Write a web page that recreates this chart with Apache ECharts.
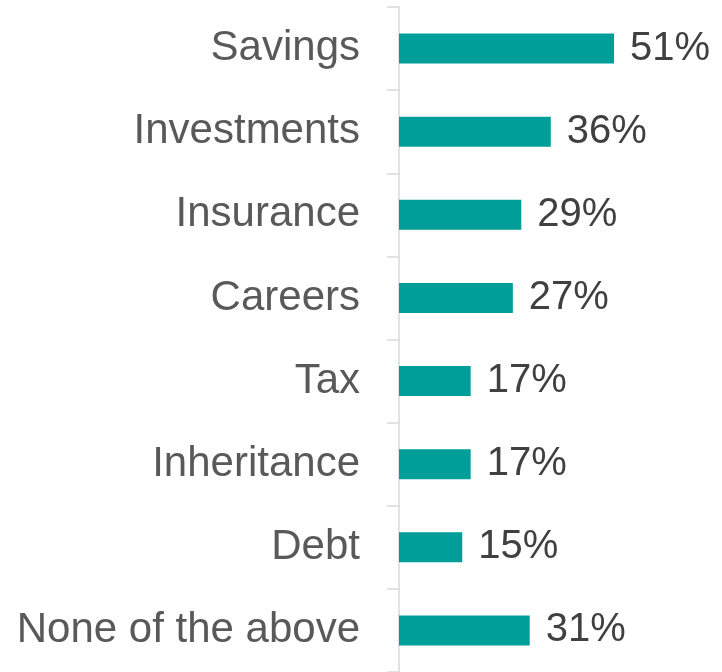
<!DOCTYPE html>
<html>
<head>
<meta charset="utf-8">
<script src="https://cdn.jsdelivr.net/npm/echarts@6/dist/echarts.min.js"></script>
<style>
  html, body { margin: 0; padding: 0; background: #fff; }
  #main { width: 722px; height: 672px; }
</style>
</head>
<body>
<div id="main"></div>
<script>
// categories top to bottom
const categories = ['Savings', 'Investments', 'Insurance', 'Careers', 'Tax', 'Inheritance', 'Debt', 'None of the above'];
// share of respondents, %
const values = [51, 36, 29, 27, 17, 17, 15, 31];

const chart = echarts.init(document.getElementById('main'));

chart.setOption({
  animation: false,
  grid: {
    left: 399,
    right: 70,
    top: 7,
    bottom: -5
  },
  xAxis: {
    type: 'value',
    min: 0,
    max: 60,
    show: false
  },
  yAxis: {
    type: 'category',
    inverse: true,
    data: categories,
    axisLine: { show: true, lineStyle: { color: '#d9d9d9', width: 1.5 } },
    axisTick: { show: true, inside: false, length: 12, lineStyle: { color: '#d9d9d9', width: 1.5 } },
    axisLabel: {
      margin: 39,
      color: '#595959',
      fontSize: 42,
      fontFamily: 'Liberation Sans, Arial, sans-serif'
    }
  },
  series: [
    {
      type: 'bar',
      data: values,
      barWidth: 30,
      itemStyle: { color: '#009e99' },
      label: {
        show: true,
        position: 'right',
        distance: 16,
        formatter: '{c}%',
        color: '#404040',
        fontSize: 40,
        fontFamily: 'Liberation Sans, Arial, sans-serif'
      }
    }
  ]
});
</script>
</body>
</html>
